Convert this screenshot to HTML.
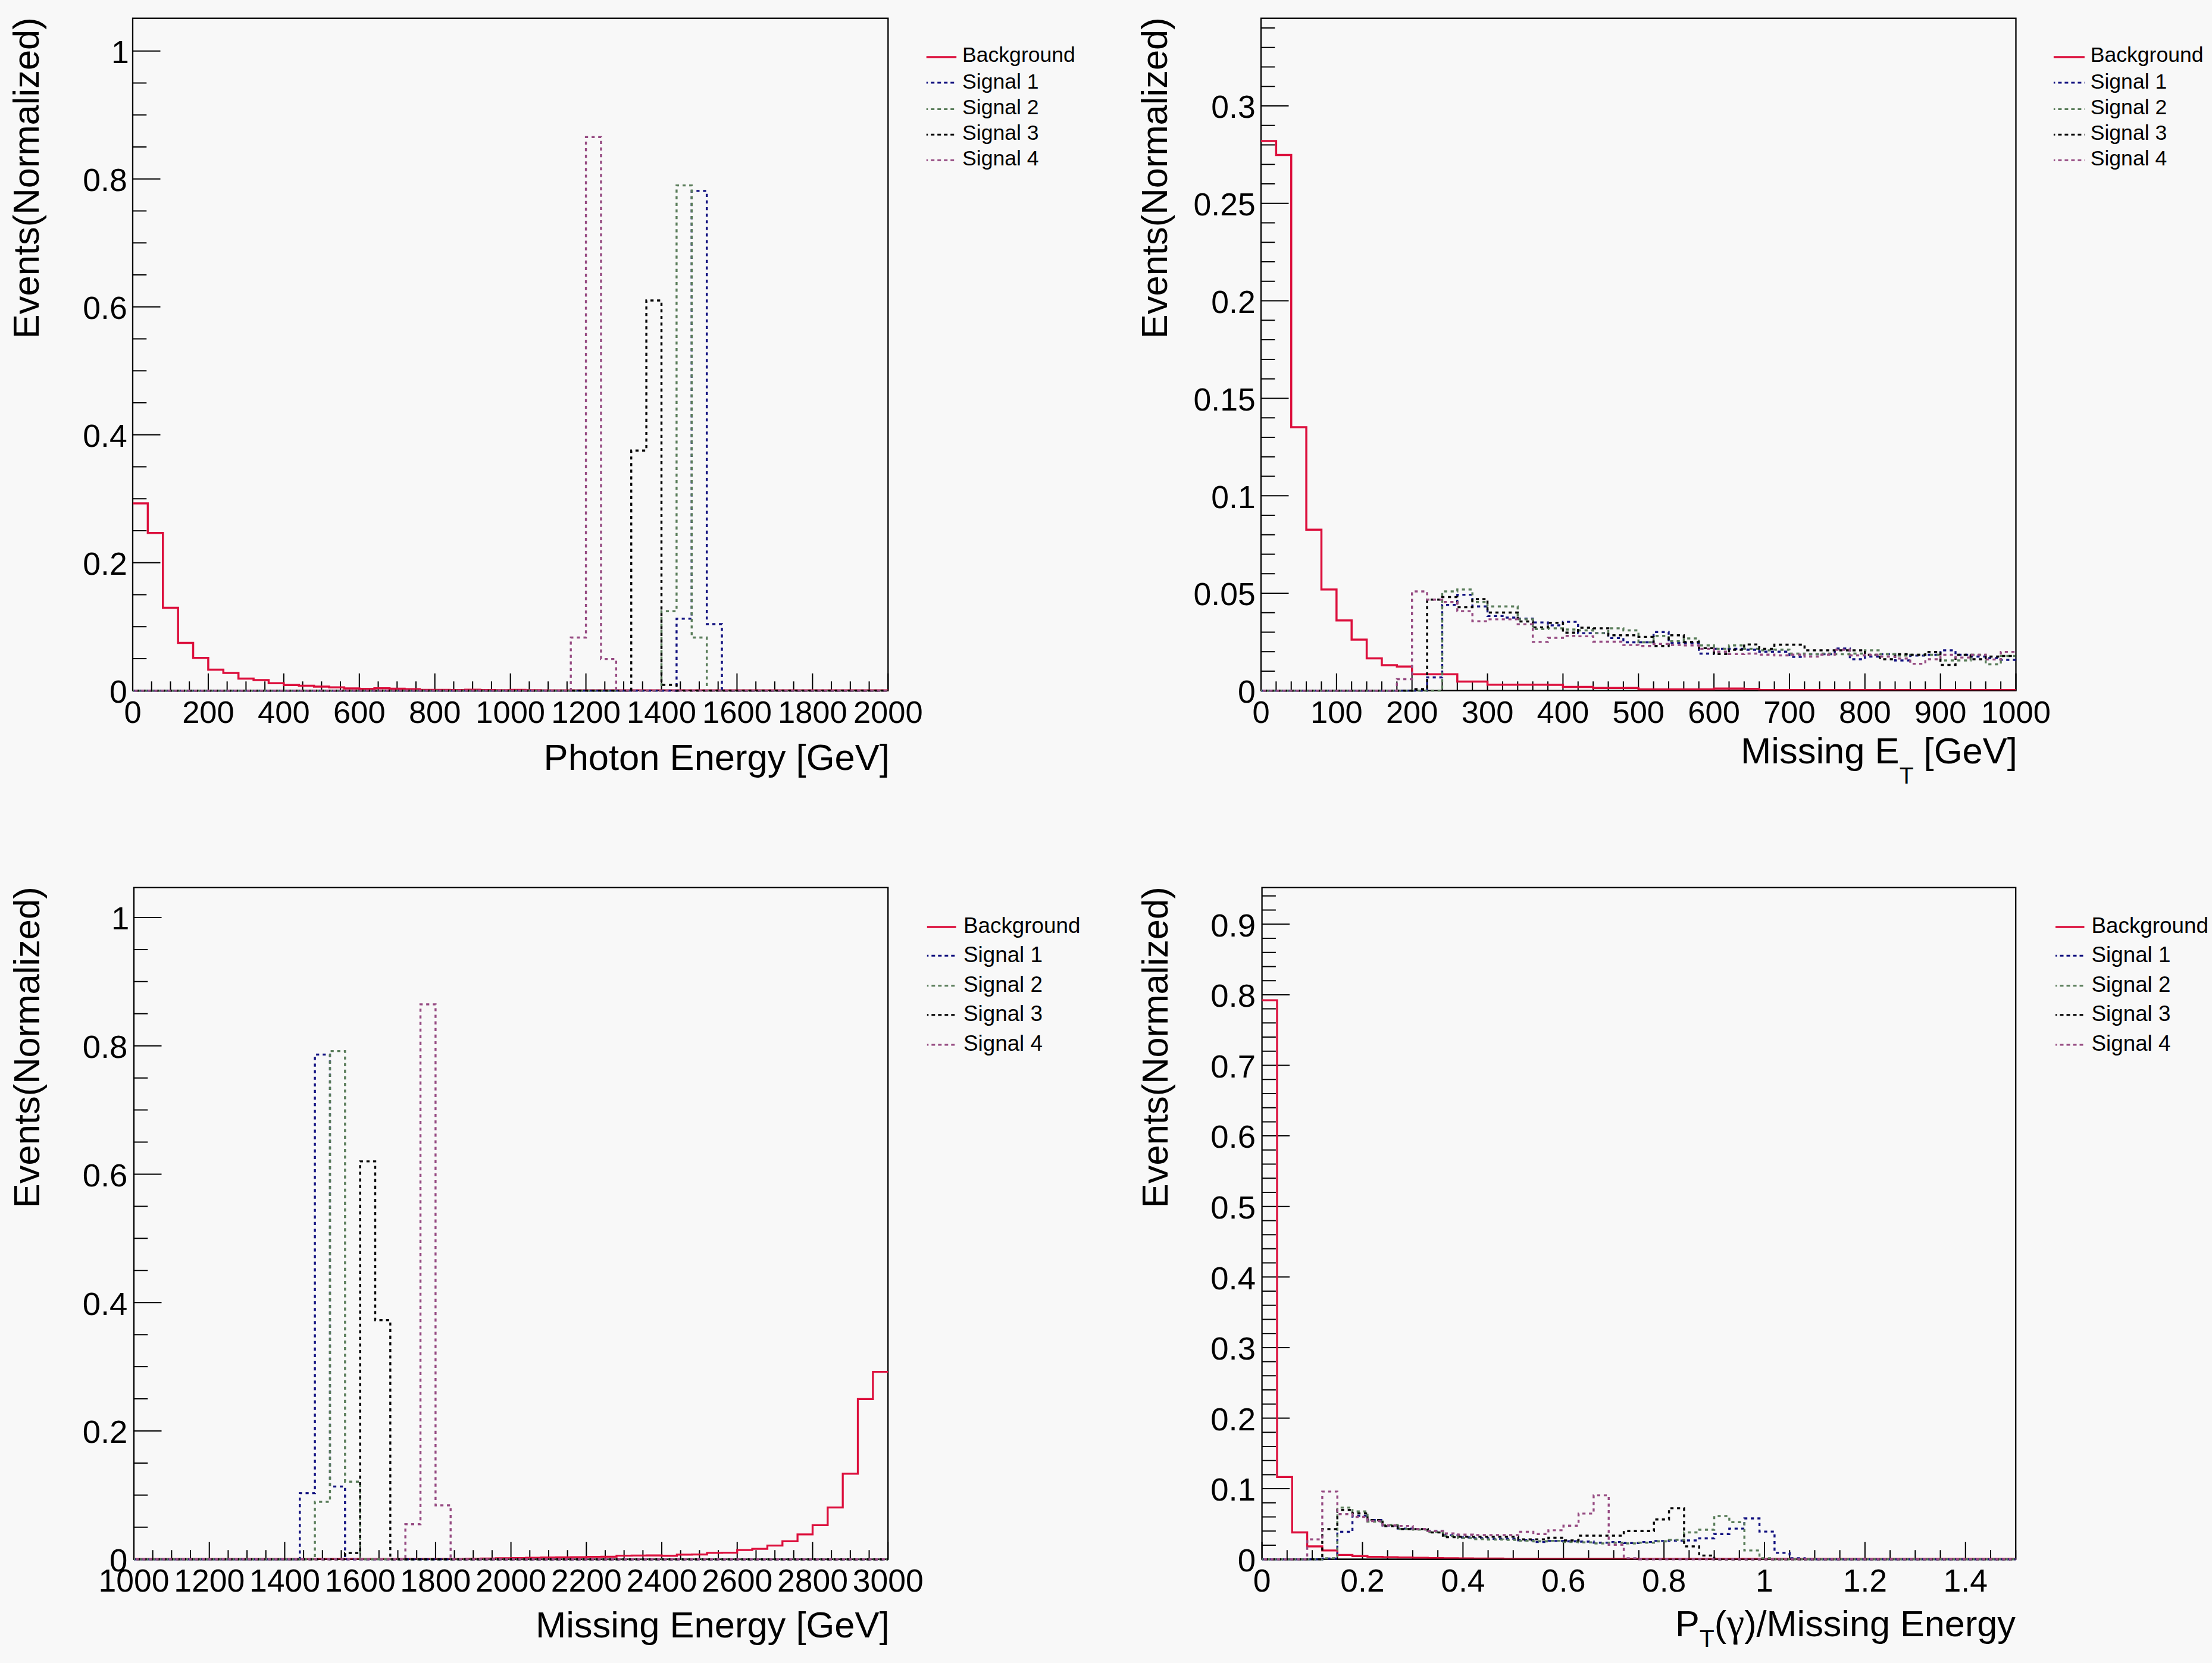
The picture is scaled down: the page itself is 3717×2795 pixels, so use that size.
<!DOCTYPE html>
<html lang="en">
<head>
<meta charset="utf-8">
<title>Normalized event distributions</title>
<style>
html,body{margin:0;padding:0;background:#f8f8f8;}
body{width:3717px;height:2795px;overflow:hidden;}
svg{display:block;}
svg text{font-family:"Liberation Sans", sans-serif;fill:#000;}
</style>
</head>
<body>
<svg width="3717" height="2795" viewBox="0 0 3717 2795">
<rect x="0" y="0" width="3717" height="2795" fill="#f8f8f8"/>
<g id="p1">
<rect x="223" y="30.7" width="1269.3" height="1130" fill="none" stroke="#000" stroke-width="2.3"/>
<path d="M223 1160.7v-29M254.73 1160.7v-15.5M286.46 1160.7v-15.5M318.2 1160.7v-15.5M349.93 1160.7v-29M381.66 1160.7v-15.5M413.39 1160.7v-15.5M445.13 1160.7v-15.5M476.86 1160.7v-29M508.59 1160.7v-15.5M540.33 1160.7v-15.5M572.06 1160.7v-15.5M603.79 1160.7v-29M635.52 1160.7v-15.5M667.25 1160.7v-15.5M698.99 1160.7v-15.5M730.72 1160.7v-29M762.45 1160.7v-15.5M794.18 1160.7v-15.5M825.92 1160.7v-15.5M857.65 1160.7v-29M889.38 1160.7v-15.5M921.11 1160.7v-15.5M952.85 1160.7v-15.5M984.58 1160.7v-29M1016.31 1160.7v-15.5M1048.05 1160.7v-15.5M1079.78 1160.7v-15.5M1111.51 1160.7v-29M1143.24 1160.7v-15.5M1174.97 1160.7v-15.5M1206.71 1160.7v-15.5M1238.44 1160.7v-29M1270.17 1160.7v-15.5M1301.9 1160.7v-15.5M1333.64 1160.7v-15.5M1365.37 1160.7v-29M1397.1 1160.7v-15.5M1428.83 1160.7v-15.5M1460.57 1160.7v-15.5M1492.3 1160.7v-29" stroke="#000" stroke-width="2" fill="none"/>
<path d="M223 1160.7h46.5M223 1106.95h23.3M223 1053.2h23.3M223 999.45h23.3M223 945.7h46.5M223 891.95h23.3M223 838.2h23.3M223 784.45h23.3M223 730.7h46.5M223 676.95h23.3M223 623.2h23.3M223 569.45h23.3M223 515.7h46.5M223 461.95h23.3M223 408.2h23.3M223 354.45h23.3M223 300.7h46.5M223 246.95h23.3M223 193.2h23.3M223 139.45h23.3M223 85.7h46.5" stroke="#000" stroke-width="2" fill="none"/>
<g font-size="52.5">
<text x="223" y="1215.2" text-anchor="middle">0</text>
<text x="349.93" y="1215.2" text-anchor="middle">200</text>
<text x="476.86" y="1215.2" text-anchor="middle">400</text>
<text x="603.79" y="1215.2" text-anchor="middle">600</text>
<text x="730.72" y="1215.2" text-anchor="middle">800</text>
<text x="857.65" y="1215.2" text-anchor="middle">1000</text>
<text x="984.58" y="1215.2" text-anchor="middle">1200</text>
<text x="1111.51" y="1215.2" text-anchor="middle">1400</text>
<text x="1238.44" y="1215.2" text-anchor="middle">1600</text>
<text x="1365.37" y="1215.2" text-anchor="middle">1800</text>
<text x="1492.3" y="1215.2" text-anchor="middle">2000</text>
<text x="213.7" y="1181" text-anchor="end" font-size="53.5">0</text>
<text x="213.7" y="966" text-anchor="end" font-size="53.5">0.2</text>
<text x="213.7" y="751" text-anchor="end" font-size="53.5">0.4</text>
<text x="213.7" y="536" text-anchor="end" font-size="53.5">0.6</text>
<text x="213.7" y="321" text-anchor="end" font-size="53.5">0.8</text>
<text x="216.7" y="106" text-anchor="end" font-size="53.5">1</text>
</g>
<path d="M223 845.94H248.39V895.71H273.77V1021.49H299.16V1080.4H324.54V1105.77H349.93V1125.44H375.32V1131.03H400.7V1140.6H426.09V1142.96H451.47V1148.23H476.86V1151.24H502.25V1152.53H527.63V1154.04H553.02V1155.33H578.4V1157.05H603.79V1157.69H629.18V1156.83H654.56V1157.48H679.95V1158.34H705.33V1159.41H730.72V1159.62H756.11V1159.84H781.49V1159.19H806.88V1159.84H832.26V1160.06H857.65V1159.41H883.04V1160.06H908.42V1160.27H933.81V1160.27H959.19V1160.27H984.58V1160.27H1009.97V1160.27H1035.35V1160.27H1060.74V1160.27H1086.12V1160.27H1111.51V1160.27H1136.9V1160.27H1162.28V1160.27H1187.67V1160.27H1213.05V1160.27H1238.44V1160.27H1263.83V1160.27H1289.21V1160.27H1314.6V1160.27H1339.98V1160.27H1365.37V1160.27H1390.76V1160.27H1416.14V1160.27H1441.53V1160.27H1466.91V1160.27H1492.3" fill="none" stroke="#dc0f3c" stroke-width="3.5" stroke-linejoin="miter"/>
<line x1="223" y1="1160.7" x2="1492.3" y2="1160.7" stroke="#000" stroke-width="2.3" stroke-opacity="0.78"/>
<path d="M223 1160.7H248.39V1160.7H273.77V1160.7H299.16V1160.7H324.54V1160.7H349.93V1160.7H375.32V1160.7H400.7V1160.7H426.09V1160.7H451.47V1160.7H476.86V1160.7H502.25V1160.7H527.63V1160.7H553.02V1160.7H578.4V1160.7H603.79V1160.7H629.18V1160.7H654.56V1160.7H679.95V1160.7H705.33V1160.7H730.72V1160.7H756.11V1160.7H781.49V1160.7H806.88V1160.7H832.26V1160.7H857.65V1160.7H883.04V1160.7H908.42V1160.7H933.81V1160.7H959.19V1160.7H984.58V1160.7H1009.97V1160.7H1035.35V1160.7H1060.74V1160.7H1086.12V1160.7H1111.51V1160.7H1136.9V1039.87H1162.28V320.91H1187.67V1049.01H1213.05V1160.7H1238.44V1160.7H1263.83V1160.7H1289.21V1160.7H1314.6V1160.7H1339.98V1160.7H1365.37V1160.7H1390.76V1160.7H1416.14V1160.7H1441.53V1160.7H1466.91V1160.7H1492.3" fill="none" stroke="#121280" stroke-width="3.4" stroke-dasharray="5.2 5.9" stroke-dashoffset="0"/>
<path d="M223 1160.7H248.39V1160.7H273.77V1160.7H299.16V1160.7H324.54V1160.7H349.93V1160.7H375.32V1160.7H400.7V1160.7H426.09V1160.7H451.47V1160.7H476.86V1160.7H502.25V1160.7H527.63V1160.7H553.02V1160.7H578.4V1160.7H603.79V1160.7H629.18V1160.7H654.56V1160.7H679.95V1160.7H705.33V1160.7H730.72V1160.7H756.11V1160.7H781.49V1160.7H806.88V1160.7H832.26V1160.7H857.65V1160.7H883.04V1160.7H908.42V1160.7H933.81V1160.7H959.19V1160.7H984.58V1160.7H1009.97V1160.7H1035.35V1160.7H1060.74V1160.7H1086.12V1160.7H1111.51V1027.29H1136.9V311.67H1162.28V1071.48H1187.67V1160.7H1213.05V1160.7H1238.44V1160.7H1263.83V1160.7H1289.21V1160.7H1314.6V1160.7H1339.98V1160.7H1365.37V1160.7H1390.76V1160.7H1416.14V1160.7H1441.53V1160.7H1466.91V1160.7H1492.3" fill="none" stroke="#5a7d5a" stroke-width="3.4" stroke-dasharray="5.2 5.9" stroke-dashoffset="3"/>
<path d="M223 1160.7H248.39V1160.7H273.77V1160.7H299.16V1160.7H324.54V1160.7H349.93V1160.7H375.32V1160.7H400.7V1160.7H426.09V1160.7H451.47V1160.7H476.86V1160.7H502.25V1160.7H527.63V1160.7H553.02V1160.7H578.4V1160.7H603.79V1160.7H629.18V1160.7H654.56V1160.7H679.95V1160.7H705.33V1160.7H730.72V1160.7H756.11V1160.7H781.49V1160.7H806.88V1160.7H832.26V1160.7H857.65V1160.7H883.04V1160.7H908.42V1160.7H933.81V1160.7H959.19V1160.7H984.58V1160.7H1009.97V1160.7H1035.35V1160.7H1060.74V757.25H1086.12V504.95H1111.51V1151.13H1136.9V1160.7H1162.28V1160.7H1187.67V1160.7H1213.05V1160.7H1238.44V1160.7H1263.83V1160.7H1289.21V1160.7H1314.6V1160.7H1339.98V1160.7H1365.37V1160.7H1390.76V1160.7H1416.14V1160.7H1441.53V1160.7H1466.91V1160.7H1492.3" fill="none" stroke="#000000" stroke-width="3.4" stroke-dasharray="5.2 5.9" stroke-dashoffset="6"/>
<path d="M223 1160.7H248.39V1160.7H273.77V1160.7H299.16V1160.7H324.54V1160.7H349.93V1160.7H375.32V1160.7H400.7V1160.7H426.09V1160.7H451.47V1160.7H476.86V1160.7H502.25V1160.7H527.63V1160.7H553.02V1160.7H578.4V1160.7H603.79V1160.7H629.18V1160.7H654.56V1160.7H679.95V1160.7H705.33V1160.7H730.72V1160.7H756.11V1160.7H781.49V1160.7H806.88V1160.7H832.26V1160.7H857.65V1160.7H883.04V1160.7H908.42V1160.7H933.81V1160.7H959.19V1071.48H984.58V230.4H1009.97V1107.6H1035.35V1160.7H1060.74V1160.7H1086.12V1160.7H1111.51V1160.7H1136.9V1160.7H1162.28V1160.7H1187.67V1160.7H1213.05V1160.7H1238.44V1160.7H1263.83V1160.7H1289.21V1160.7H1314.6V1160.7H1339.98V1160.7H1365.37V1160.7H1390.76V1160.7H1416.14V1160.7H1441.53V1160.7H1466.91V1160.7H1492.3" fill="none" stroke="#964b82" stroke-width="3.4" stroke-dasharray="5.2 5.9" stroke-dashoffset="8"/>
<text x="1494.8" y="1293.7" font-size="61.5" text-anchor="end">Photon Energy [GeV]</text>
<text transform="translate(64.8 29.2) rotate(-90)" font-size="61.5" text-anchor="end">Events(Normalized)</text>
<g font-size="35.6">
<line x1="1556.7" y1="95.9" x2="1607.2" y2="95.9" stroke="#dc0f3c" stroke-width="3.5"/>
<text x="1617" y="104.3">Background</text>
<line x1="1556.7" y1="139" x2="1607.2" y2="139" stroke="#121280" stroke-width="3" stroke-dasharray="6 5" stroke-dashoffset="3.5"/>
<text x="1617" y="148.5">Signal 1</text>
<line x1="1556.7" y1="183.5" x2="1607.2" y2="183.5" stroke="#5a7d5a" stroke-width="3" stroke-dasharray="6 5" stroke-dashoffset="3.5"/>
<text x="1617" y="192">Signal 2</text>
<line x1="1556.7" y1="226.3" x2="1607.2" y2="226.3" stroke="#000000" stroke-width="3" stroke-dasharray="6 5" stroke-dashoffset="3.5"/>
<text x="1617" y="235">Signal 3</text>
<line x1="1556.7" y1="269.3" x2="1607.2" y2="269.3" stroke="#964b82" stroke-width="3" stroke-dasharray="6 5" stroke-dashoffset="3.5"/>
<text x="1617" y="278">Signal 4</text>
</g>
</g>
<g id="p2">
<rect x="2119" y="30.7" width="1268.5" height="1130.1" fill="none" stroke="#000" stroke-width="2.3"/>
<path d="M2119 1160.8v-29M2144.37 1160.8v-15.5M2169.74 1160.8v-15.5M2195.11 1160.8v-15.5M2220.48 1160.8v-15.5M2245.85 1160.8v-29M2271.22 1160.8v-15.5M2296.59 1160.8v-15.5M2321.96 1160.8v-15.5M2347.33 1160.8v-15.5M2372.7 1160.8v-29M2398.07 1160.8v-15.5M2423.44 1160.8v-15.5M2448.81 1160.8v-15.5M2474.18 1160.8v-15.5M2499.55 1160.8v-29M2524.92 1160.8v-15.5M2550.29 1160.8v-15.5M2575.66 1160.8v-15.5M2601.03 1160.8v-15.5M2626.4 1160.8v-29M2651.77 1160.8v-15.5M2677.14 1160.8v-15.5M2702.51 1160.8v-15.5M2727.88 1160.8v-15.5M2753.25 1160.8v-29M2778.62 1160.8v-15.5M2803.99 1160.8v-15.5M2829.36 1160.8v-15.5M2854.73 1160.8v-15.5M2880.1 1160.8v-29M2905.47 1160.8v-15.5M2930.84 1160.8v-15.5M2956.21 1160.8v-15.5M2981.58 1160.8v-15.5M3006.95 1160.8v-29M3032.32 1160.8v-15.5M3057.69 1160.8v-15.5M3083.06 1160.8v-15.5M3108.43 1160.8v-15.5M3133.8 1160.8v-29M3159.17 1160.8v-15.5M3184.54 1160.8v-15.5M3209.91 1160.8v-15.5M3235.28 1160.8v-15.5M3260.65 1160.8v-29M3286.02 1160.8v-15.5M3311.39 1160.8v-15.5M3336.76 1160.8v-15.5M3362.13 1160.8v-15.5M3387.5 1160.8v-29" stroke="#000" stroke-width="2" fill="none"/>
<path d="M2119 1160.8h46.5M2119 1128.04h23.3M2119 1095.28h23.3M2119 1062.52h23.3M2119 1029.76h23.3M2119 997h46.5M2119 964.24h23.3M2119 931.48h23.3M2119 898.72h23.3M2119 865.96h23.3M2119 833.2h46.5M2119 800.44h23.3M2119 767.68h23.3M2119 734.92h23.3M2119 702.16h23.3M2119 669.4h46.5M2119 636.64h23.3M2119 603.88h23.3M2119 571.12h23.3M2119 538.36h23.3M2119 505.6h46.5M2119 472.84h23.3M2119 440.08h23.3M2119 407.32h23.3M2119 374.56h23.3M2119 341.8h46.5M2119 309.04h23.3M2119 276.28h23.3M2119 243.52h23.3M2119 210.76h23.3M2119 178h46.5M2119 145.24h23.3M2119 112.48h23.3M2119 79.72h23.3M2119 46.96h23.3" stroke="#000" stroke-width="2" fill="none"/>
<g font-size="52.5">
<text x="2119" y="1215.3" text-anchor="middle">0</text>
<text x="2245.85" y="1215.3" text-anchor="middle">100</text>
<text x="2372.7" y="1215.3" text-anchor="middle">200</text>
<text x="2499.55" y="1215.3" text-anchor="middle">300</text>
<text x="2626.4" y="1215.3" text-anchor="middle">400</text>
<text x="2753.25" y="1215.3" text-anchor="middle">500</text>
<text x="2880.1" y="1215.3" text-anchor="middle">600</text>
<text x="3006.95" y="1215.3" text-anchor="middle">700</text>
<text x="3133.8" y="1215.3" text-anchor="middle">800</text>
<text x="3260.65" y="1215.3" text-anchor="middle">900</text>
<text x="3387.5" y="1215.3" text-anchor="middle">1000</text>
<text x="2109.7" y="1181.1" text-anchor="end" font-size="53.5">0</text>
<text x="2109.7" y="1017.3" text-anchor="end" font-size="53.5">0.05</text>
<text x="2109.7" y="853.5" text-anchor="end" font-size="53.5">0.1</text>
<text x="2109.7" y="689.7" text-anchor="end" font-size="53.5">0.15</text>
<text x="2109.7" y="525.9" text-anchor="end" font-size="53.5">0.2</text>
<text x="2109.7" y="362.1" text-anchor="end" font-size="53.5">0.25</text>
<text x="2109.7" y="198.3" text-anchor="end" font-size="53.5">0.3</text>
</g>
<path d="M2119 236.97H2144.37V260.56H2169.74V717.88H2195.11V890.2H2220.48V990.78H2245.85V1042.86H2271.22V1074.97H2296.59V1106.42H2321.96V1117.88H2347.33V1120.18H2372.7V1133.28H2398.07V1133.28H2423.44V1133.28H2448.81V1145.4H2474.18V1145.4H2499.55V1150.64H2524.92V1150.64H2550.29V1150.64H2575.66V1150.64H2601.03V1150.97H2626.4V1154.58H2651.77V1154.58H2677.14V1156.21H2702.51V1156.21H2727.88V1156.21H2753.25V1158.83H2778.62V1158.83H2803.99V1158.83H2829.36V1158.83H2854.73V1158.83H2880.1V1157.2H2905.47V1157.2H2930.84V1157.85H2956.21V1159.82H2981.58V1159.82H3006.95V1159.82H3032.32V1159.82H3057.69V1159.82H3083.06V1159.82H3108.43V1159.82H3133.8V1159.82H3159.17V1159.82H3184.54V1159.82H3209.91V1159.82H3235.28V1159.82H3260.65V1159.82H3286.02V1159.82H3311.39V1159.82H3336.76V1159.82H3362.13V1159.82H3387.5" fill="none" stroke="#dc0f3c" stroke-width="3.5" stroke-linejoin="miter"/>
<line x1="2119" y1="1160.8" x2="3387.5" y2="1160.8" stroke="#000" stroke-width="2.3" stroke-opacity="0.78"/>
<path d="M2119 1160.8H2144.37V1160.8H2169.74V1160.8H2195.11V1160.8H2220.48V1160.8H2245.85V1160.8H2271.22V1160.8H2296.59V1160.8H2321.96V1160.8H2347.33V1160.8H2372.7V1160.8H2398.07V1138.52H2423.44V1016.66H2448.81V999.62H2474.18V1019.28H2499.55V1035.33H2524.92V1037.95H2550.29V1039.59H2575.66V1046.14H2601.03V1051.05H2626.4V1045.16H2651.77V1064.16H2677.14V1064.16H2702.51V1072.35H2727.88V1079.56H2753.25V1079.56H2778.62V1062.19H2803.99V1080.54H2829.36V1080.54H2854.73V1098.56H2880.1V1090.37H2905.47V1090.37H2930.84V1092H2956.21V1095.28H2981.58V1095.28H3006.95V1104.13H3032.32V1099.54H3057.69V1099.54H3083.06V1090.04H3108.43V1108.06H3133.8V1103.47H3159.17V1099.54H3184.54V1110.02H3209.91V1101.83H3235.28V1100.52H3260.65V1092.99H3286.02V1100.52H3311.39V1103.47H3336.76V1106.09H3362.13V1109.04H3387.5" fill="none" stroke="#121280" stroke-width="3.4" stroke-dasharray="5.2 5.9" stroke-dashoffset="0"/>
<path d="M2119 1160.8H2144.37V1160.8H2169.74V1160.8H2195.11V1160.8H2220.48V1160.8H2245.85V1160.8H2271.22V1160.8H2296.59V1160.8H2321.96V1160.8H2347.33V1160.8H2372.7V1160.8H2398.07V1160.8H2423.44V994.05H2448.81V990.78H2474.18V1011.74H2499.55V1019.28H2524.92V1019.28H2550.29V1040.9H2575.66V1057.28H2601.03V1055.97H2626.4V1057.93H2651.77V1059.57H2677.14V1064.16H2702.51V1055.97H2727.88V1059.57H2753.25V1079.56H2778.62V1068.74H2803.99V1077.59H2829.36V1073H2854.73V1084.8H2880.1V1090.37H2905.47V1084.8H2930.84V1090.37H2956.21V1092.99H2981.58V1092H3006.95V1098.56H3032.32V1099.54H3057.69V1098.56H3083.06V1099.54H3108.43V1098.56H3133.8V1092.99H3159.17V1099.54H3184.54V1101.83H3209.91V1100.52H3235.28V1100.52H3260.65V1110.02H3286.02V1110.02H3311.39V1100.52H3336.76V1116.57H3362.13V1102.49H3387.5" fill="none" stroke="#5a7d5a" stroke-width="3.4" stroke-dasharray="5.2 5.9" stroke-dashoffset="3"/>
<path d="M2119 1160.8H2144.37V1160.8H2169.74V1160.8H2195.11V1160.8H2220.48V1160.8H2245.85V1160.8H2271.22V1160.8H2296.59V1160.8H2321.96V1160.8H2347.33V1160.8H2372.7V1158.18H2398.07V1007.81H2423.44V1003.55H2448.81V1020.59H2474.18V1006.83H2499.55V1029.43H2524.92V1029.43H2550.29V1044.5H2575.66V1054.33H2601.03V1046.8H2626.4V1063.18H2651.77V1054.99H2677.14V1055.97H2702.51V1067.76H2727.88V1067.76H2753.25V1070.38H2778.62V1085.78H2803.99V1067.76H2829.36V1078.9H2854.73V1089.38H2880.1V1099.21H2905.47V1092H2930.84V1083.16H2956.21V1090.37H2981.58V1083.49H3006.95V1083.49H3032.32V1092.99H3057.69V1092.99H3083.06V1092.99H3108.43V1092.99H3133.8V1100.52H3159.17V1108.06H3184.54V1099.54H3209.91V1100.52H3235.28V1095.61H3260.65V1117.56H3286.02V1100.52H3311.39V1108.06H3336.76V1103.47H3362.13V1102.49H3387.5" fill="none" stroke="#000000" stroke-width="3.4" stroke-dasharray="5.2 5.9" stroke-dashoffset="6"/>
<path d="M2119 1160.8H2144.37V1160.8H2169.74V1160.8H2195.11V1160.8H2220.48V1160.8H2245.85V1160.8H2271.22V1160.8H2296.59V1160.8H2321.96V1160.8H2347.33V1141.47H2372.7V994.05H2398.07V1007.81H2423.44V1011.74H2448.81V1027.14H2474.18V1044.17H2499.55V1040.9H2524.92V1040.9H2550.29V1049.09H2575.66V1078.9H2601.03V1072.02H2626.4V1068.74H2651.77V1069.4H2677.14V1078.57H2702.51V1078.57H2727.88V1084.14H2753.25V1085.78H2778.62V1082.18H2803.99V1084.14H2829.36V1084.8H2854.73V1090.37H2880.1V1095.28H2905.47V1099.21H2930.84V1098.56H2956.21V1100.19H2981.58V1101.5H3006.95V1100.19H3032.32V1103.47H3057.69V1100.19H3083.06V1092H3108.43V1101.5H3133.8V1100.52H3159.17V1103.47H3184.54V1106.75H3209.91V1115.59H3235.28V1108.06H3260.65V1100.52H3286.02V1105.11H3311.39V1100.52H3336.76V1108.38H3362.13V1095.61H3387.5" fill="none" stroke="#964b82" stroke-width="3.4" stroke-dasharray="5.2 5.9" stroke-dashoffset="8"/>
<text x="3389.8" y="1283.3" font-size="61.5" text-anchor="end">Missing E<tspan font-size="39" dy="33.4">T</tspan><tspan dy="-33.4"> [GeV]</tspan></text>
<text transform="translate(1961 29.2) rotate(-90)" font-size="61.5" text-anchor="end">Events(Normalized)</text>
<g font-size="35.6">
<line x1="3450.9" y1="95.9" x2="3502.9" y2="95.9" stroke="#dc0f3c" stroke-width="3.5"/>
<text x="3512.7" y="104.3">Background</text>
<line x1="3450.9" y1="139" x2="3502.9" y2="139" stroke="#121280" stroke-width="3" stroke-dasharray="6 5" stroke-dashoffset="3.5"/>
<text x="3512.7" y="148.5">Signal 1</text>
<line x1="3450.9" y1="183.5" x2="3502.9" y2="183.5" stroke="#5a7d5a" stroke-width="3" stroke-dasharray="6 5" stroke-dashoffset="3.5"/>
<text x="3512.7" y="192">Signal 2</text>
<line x1="3450.9" y1="226.3" x2="3502.9" y2="226.3" stroke="#000000" stroke-width="3" stroke-dasharray="6 5" stroke-dashoffset="3.5"/>
<text x="3512.7" y="235">Signal 3</text>
<line x1="3450.9" y1="269.3" x2="3502.9" y2="269.3" stroke="#964b82" stroke-width="3" stroke-dasharray="6 5" stroke-dashoffset="3.5"/>
<text x="3512.7" y="278">Signal 4</text>
</g>
</g>
<g id="p3">
<rect x="225" y="1491.8" width="1267.2" height="1128.9" fill="none" stroke="#000" stroke-width="2.3"/>
<path d="M225 2620.7v-29M256.68 2620.7v-15.5M288.36 2620.7v-15.5M320.04 2620.7v-15.5M351.72 2620.7v-29M383.4 2620.7v-15.5M415.08 2620.7v-15.5M446.76 2620.7v-15.5M478.44 2620.7v-29M510.12 2620.7v-15.5M541.8 2620.7v-15.5M573.48 2620.7v-15.5M605.16 2620.7v-29M636.84 2620.7v-15.5M668.52 2620.7v-15.5M700.2 2620.7v-15.5M731.88 2620.7v-29M763.56 2620.7v-15.5M795.24 2620.7v-15.5M826.92 2620.7v-15.5M858.6 2620.7v-29M890.28 2620.7v-15.5M921.96 2620.7v-15.5M953.64 2620.7v-15.5M985.32 2620.7v-29M1017 2620.7v-15.5M1048.68 2620.7v-15.5M1080.36 2620.7v-15.5M1112.04 2620.7v-29M1143.72 2620.7v-15.5M1175.4 2620.7v-15.5M1207.08 2620.7v-15.5M1238.76 2620.7v-29M1270.44 2620.7v-15.5M1302.12 2620.7v-15.5M1333.8 2620.7v-15.5M1365.48 2620.7v-29M1397.16 2620.7v-15.5M1428.84 2620.7v-15.5M1460.52 2620.7v-15.5M1492.2 2620.7v-29" stroke="#000" stroke-width="2" fill="none"/>
<path d="M225 2620.7h46.5M225 2566.76h23.3M225 2512.83h23.3M225 2458.89h23.3M225 2404.96h46.5M225 2351.02h23.3M225 2297.09h23.3M225 2243.15h23.3M225 2189.22h46.5M225 2135.28h23.3M225 2081.35h23.3M225 2027.41h23.3M225 1973.48h46.5M225 1919.54h23.3M225 1865.61h23.3M225 1811.67h23.3M225 1757.74h46.5M225 1703.8h23.3M225 1649.87h23.3M225 1595.93h23.3M225 1542h46.5" stroke="#000" stroke-width="2" fill="none"/>
<g font-size="53.5">
<text x="225" y="2675.2" text-anchor="middle">1000</text>
<text x="351.72" y="2675.2" text-anchor="middle">1200</text>
<text x="478.44" y="2675.2" text-anchor="middle">1400</text>
<text x="605.16" y="2675.2" text-anchor="middle">1600</text>
<text x="731.88" y="2675.2" text-anchor="middle">1800</text>
<text x="858.6" y="2675.2" text-anchor="middle">2000</text>
<text x="985.32" y="2675.2" text-anchor="middle">2200</text>
<text x="1112.04" y="2675.2" text-anchor="middle">2400</text>
<text x="1238.76" y="2675.2" text-anchor="middle">2600</text>
<text x="1365.48" y="2675.2" text-anchor="middle">2800</text>
<text x="1492.2" y="2675.2" text-anchor="middle">3000</text>
<text x="214.4" y="2641" text-anchor="end" font-size="54.5">0</text>
<text x="214.4" y="2425.26" text-anchor="end" font-size="54.5">0.2</text>
<text x="214.4" y="2209.52" text-anchor="end" font-size="54.5">0.4</text>
<text x="214.4" y="1993.78" text-anchor="end" font-size="54.5">0.6</text>
<text x="214.4" y="1778.04" text-anchor="end" font-size="54.5">0.8</text>
<text x="217.4" y="1562.3" text-anchor="end" font-size="54.5">1</text>
</g>
<path d="M225 2620.27H250.34V2620.27H275.69V2620.27H301.03V2620.27H326.38V2620.27H351.72V2620.27H377.06V2620.27H402.41V2620.27H427.75V2620.27H453.1V2620.27H478.44V2620.27H503.78V2620.27H529.13V2620.27H554.47V2620.27H579.82V2620.27H605.16V2620.27H630.5V2620.27H655.85V2620.27H681.19V2620.27H706.54V2620.27H731.88V2620.27H757.22V2620.27H782.57V2619.62H807.91V2619.41H833.26V2618.97H858.6V2618.54H883.94V2618.11H909.29V2617.68H934.63V2617.46H959.98V2617.03H985.32V2616.6H1010.66V2616.39H1036.01V2614.66H1061.35V2614.44H1086.7V2614.23H1112.04V2614.77H1137.38V2612.83H1162.73V2612.61H1188.07V2609.91H1213.42V2609.7H1238.76V2605.17H1264.1V2603.12H1289.45V2597.72H1314.79V2590.28H1340.14V2578.95H1365.48V2563.42H1390.82V2533.54H1416.17V2476.8H1441.51V2351.35H1466.86V2305.72H1492.2" fill="none" stroke="#dc0f3c" stroke-width="3.3" stroke-linejoin="miter"/>
<line x1="225" y1="2620.7" x2="1492.2" y2="2620.7" stroke="#000" stroke-width="2.3" stroke-opacity="0.78"/>
<path d="M225 2620.7H250.34V2620.7H275.69V2620.7H301.03V2620.7H326.38V2620.7H351.72V2620.7H377.06V2620.7H402.41V2620.7H427.75V2620.7H453.1V2620.7H478.44V2620.7H503.78V2509.59H529.13V1772.41H554.47V2498.38H579.82V2620.7H605.16V2620.7H630.5V2620.7H655.85V2620.7H681.19V2620.7H706.54V2620.7H731.88V2620.7H757.22V2620.7H782.57V2620.7H807.91V2620.7H833.26V2620.7H858.6V2620.7H883.94V2620.7H909.29V2620.7H934.63V2620.7H959.98V2620.7H985.32V2620.7H1010.66V2620.7H1036.01V2620.7H1061.35V2620.7H1086.7V2620.7H1112.04V2620.7H1137.38V2620.7H1162.73V2620.7H1188.07V2620.7H1213.42V2620.7H1238.76V2620.7H1264.1V2620.7H1289.45V2620.7H1314.79V2620.7H1340.14V2620.7H1365.48V2620.7H1390.82V2620.7H1416.17V2620.7H1441.51V2620.7H1466.86V2620.7H1492.2" fill="none" stroke="#121280" stroke-width="3.4" stroke-dasharray="5.2 5.9" stroke-dashoffset="0"/>
<path d="M225 2620.7H250.34V2620.7H275.69V2620.7H301.03V2620.7H326.38V2620.7H351.72V2620.7H377.06V2620.7H402.41V2620.7H427.75V2620.7H453.1V2620.7H478.44V2620.7H503.78V2620.7H529.13V2524.16H554.47V1766.59H579.82V2490.18H605.16V2620.7H630.5V2620.7H655.85V2620.7H681.19V2620.7H706.54V2620.7H731.88V2620.7H757.22V2620.7H782.57V2620.7H807.91V2620.7H833.26V2620.7H858.6V2620.7H883.94V2620.7H909.29V2620.7H934.63V2620.7H959.98V2620.7H985.32V2620.7H1010.66V2620.7H1036.01V2620.7H1061.35V2620.7H1086.7V2620.7H1112.04V2620.7H1137.38V2620.7H1162.73V2620.7H1188.07V2620.7H1213.42V2620.7H1238.76V2620.7H1264.1V2620.7H1289.45V2620.7H1314.79V2620.7H1340.14V2620.7H1365.48V2620.7H1390.82V2620.7H1416.17V2620.7H1441.51V2620.7H1466.86V2620.7H1492.2" fill="none" stroke="#5a7d5a" stroke-width="3.4" stroke-dasharray="5.2 5.9" stroke-dashoffset="3"/>
<path d="M225 2620.7H250.34V2620.7H275.69V2620.7H301.03V2620.7H326.38V2620.7H351.72V2620.7H377.06V2620.7H402.41V2620.7H427.75V2620.7H453.1V2620.7H478.44V2620.7H503.78V2620.7H529.13V2620.7H554.47V2620.7H579.82V2610.13H605.16V1951.91H630.5V2218.78H655.85V2620.7H681.19V2620.7H706.54V2620.7H731.88V2620.7H757.22V2620.7H782.57V2620.7H807.91V2620.7H833.26V2620.7H858.6V2620.7H883.94V2620.7H909.29V2620.7H934.63V2620.7H959.98V2620.7H985.32V2620.7H1010.66V2620.7H1036.01V2620.7H1061.35V2620.7H1086.7V2620.7H1112.04V2620.7H1137.38V2620.7H1162.73V2620.7H1188.07V2620.7H1213.42V2620.7H1238.76V2620.7H1264.1V2620.7H1289.45V2620.7H1314.79V2620.7H1340.14V2620.7H1365.48V2620.7H1390.82V2620.7H1416.17V2620.7H1441.51V2620.7H1466.86V2620.7H1492.2" fill="none" stroke="#000000" stroke-width="3.4" stroke-dasharray="5.2 5.9" stroke-dashoffset="6"/>
<path d="M225 2620.7H250.34V2620.7H275.69V2620.7H301.03V2620.7H326.38V2620.7H351.72V2620.7H377.06V2620.7H402.41V2620.7H427.75V2620.7H453.1V2620.7H478.44V2620.7H503.78V2620.7H529.13V2620.7H554.47V2620.7H579.82V2620.7H605.16V2620.7H630.5V2620.7H655.85V2620.7H681.19V2561.7H706.54V1687.95H731.88V2529.98H757.22V2620.7H782.57V2620.7H807.91V2620.7H833.26V2620.7H858.6V2620.7H883.94V2620.7H909.29V2620.7H934.63V2620.7H959.98V2620.7H985.32V2620.7H1010.66V2620.7H1036.01V2620.7H1061.35V2620.7H1086.7V2620.7H1112.04V2620.7H1137.38V2620.7H1162.73V2620.7H1188.07V2620.7H1213.42V2620.7H1238.76V2620.7H1264.1V2620.7H1289.45V2620.7H1314.79V2620.7H1340.14V2620.7H1365.48V2620.7H1390.82V2620.7H1416.17V2620.7H1441.51V2620.7H1466.86V2620.7H1492.2" fill="none" stroke="#964b82" stroke-width="3.4" stroke-dasharray="5.2 5.9" stroke-dashoffset="8"/>
<text x="1494.7" y="2752.3" font-size="61.5" text-anchor="end">Missing Energy [GeV]</text>
<text transform="translate(65.8 1490.3) rotate(-90)" font-size="61.5" text-anchor="end">Events(Normalized)</text>
<g font-size="36.8">
<line x1="1557.8" y1="1558" x2="1606.6" y2="1558" stroke="#dc0f3c" stroke-width="3.3"/>
<text x="1619" y="1568.1">Background</text>
<line x1="1557.8" y1="1606.3" x2="1606.6" y2="1606.3" stroke="#121280" stroke-width="3" stroke-dasharray="6 5" stroke-dashoffset="3.5"/>
<text x="1619" y="1616.9">Signal 1</text>
<line x1="1557.8" y1="1656.8" x2="1606.6" y2="1656.8" stroke="#5a7d5a" stroke-width="3" stroke-dasharray="6 5" stroke-dashoffset="3.5"/>
<text x="1619" y="1667.4">Signal 2</text>
<line x1="1557.8" y1="1705.8" x2="1606.6" y2="1705.8" stroke="#000000" stroke-width="3" stroke-dasharray="6 5" stroke-dashoffset="3.5"/>
<text x="1619" y="1716.2">Signal 3</text>
<line x1="1557.8" y1="1756.1" x2="1606.6" y2="1756.1" stroke="#964b82" stroke-width="3" stroke-dasharray="6 5" stroke-dashoffset="3.5"/>
<text x="1619" y="1766.2">Signal 4</text>
</g>
</g>
<g id="p4">
<rect x="2120.6" y="1491.8" width="1266.6" height="1128.9" fill="none" stroke="#000" stroke-width="2.3"/>
<path d="M2120.6 2620.7v-29M2162.82 2620.7v-15.5M2205.04 2620.7v-15.5M2247.26 2620.7v-15.5M2289.48 2620.7v-29M2331.7 2620.7v-15.5M2373.92 2620.7v-15.5M2416.14 2620.7v-15.5M2458.36 2620.7v-29M2500.58 2620.7v-15.5M2542.8 2620.7v-15.5M2585.02 2620.7v-15.5M2627.24 2620.7v-29M2669.46 2620.7v-15.5M2711.68 2620.7v-15.5M2753.9 2620.7v-15.5M2796.12 2620.7v-29M2838.34 2620.7v-15.5M2880.56 2620.7v-15.5M2922.78 2620.7v-15.5M2965 2620.7v-29M3007.22 2620.7v-15.5M3049.44 2620.7v-15.5M3091.66 2620.7v-15.5M3133.88 2620.7v-29M3176.1 2620.7v-15.5M3218.32 2620.7v-15.5M3260.54 2620.7v-15.5M3302.76 2620.7v-29M3344.98 2620.7v-15.5M3387.2 2620.7v-15.5" stroke="#000" stroke-width="2" fill="none"/>
<path d="M2120.6 2620.7h46.5M2120.6 2596.98h23.3M2120.6 2573.26h23.3M2120.6 2549.54h23.3M2120.6 2525.82h23.3M2120.6 2502.1h46.5M2120.6 2478.38h23.3M2120.6 2454.66h23.3M2120.6 2430.94h23.3M2120.6 2407.22h23.3M2120.6 2383.5h46.5M2120.6 2359.78h23.3M2120.6 2336.06h23.3M2120.6 2312.34h23.3M2120.6 2288.62h23.3M2120.6 2264.9h46.5M2120.6 2241.18h23.3M2120.6 2217.46h23.3M2120.6 2193.74h23.3M2120.6 2170.02h23.3M2120.6 2146.3h46.5M2120.6 2122.58h23.3M2120.6 2098.86h23.3M2120.6 2075.14h23.3M2120.6 2051.42h23.3M2120.6 2027.7h46.5M2120.6 2003.98h23.3M2120.6 1980.26h23.3M2120.6 1956.54h23.3M2120.6 1932.82h23.3M2120.6 1909.1h46.5M2120.6 1885.38h23.3M2120.6 1861.66h23.3M2120.6 1837.94h23.3M2120.6 1814.22h23.3M2120.6 1790.5h46.5M2120.6 1766.78h23.3M2120.6 1743.06h23.3M2120.6 1719.34h23.3M2120.6 1695.62h23.3M2120.6 1671.9h46.5M2120.6 1648.18h23.3M2120.6 1624.46h23.3M2120.6 1600.74h23.3M2120.6 1577.02h23.3M2120.6 1553.3h46.5M2120.6 1529.58h23.3M2120.6 1505.86h23.3" stroke="#000" stroke-width="2" fill="none"/>
<g font-size="53.5">
<text x="2120.6" y="2675.2" text-anchor="middle">0</text>
<text x="2289.48" y="2675.2" text-anchor="middle">0.2</text>
<text x="2458.36" y="2675.2" text-anchor="middle">0.4</text>
<text x="2627.24" y="2675.2" text-anchor="middle">0.6</text>
<text x="2796.12" y="2675.2" text-anchor="middle">0.8</text>
<text x="2965" y="2675.2" text-anchor="middle">1</text>
<text x="3133.88" y="2675.2" text-anchor="middle">1.2</text>
<text x="3302.76" y="2675.2" text-anchor="middle">1.4</text>
<text x="2110" y="2641" text-anchor="end" font-size="54.5">0</text>
<text x="2110" y="2522.4" text-anchor="end" font-size="54.5">0.1</text>
<text x="2110" y="2403.8" text-anchor="end" font-size="54.5">0.2</text>
<text x="2110" y="2285.2" text-anchor="end" font-size="54.5">0.3</text>
<text x="2110" y="2166.6" text-anchor="end" font-size="54.5">0.4</text>
<text x="2110" y="2048" text-anchor="end" font-size="54.5">0.5</text>
<text x="2110" y="1929.4" text-anchor="end" font-size="54.5">0.6</text>
<text x="2110" y="1810.8" text-anchor="end" font-size="54.5">0.7</text>
<text x="2110" y="1692.2" text-anchor="end" font-size="54.5">0.8</text>
<text x="2110" y="1573.6" text-anchor="end" font-size="54.5">0.9</text>
</g>
<path d="M2120.6 1681.15H2145.93V2482.41H2171.26V2575.51H2196.6V2599H2221.93V2605.88H2247.26V2613.47H2272.59V2615.24H2297.92V2616.67H2323.26V2617.14H2348.59V2617.62H2373.92V2618.09H2399.25V2618.57H2424.58V2618.92H2449.92V2619.16H2475.25V2619.28H2500.58V2619.51H2525.91V2619.99H2551.24V2619.99H2576.58V2619.99H2601.91V2619.99H2627.24V2619.99H2652.57V2619.99H2677.9V2619.99H2703.24V2619.99H2728.57V2619.99H2753.9V2619.99H2779.23V2619.99H2804.56V2619.99H2829.9V2619.99H2855.23V2619.99H2880.56V2619.99H2905.89V2619.99H2931.22V2619.99H2956.56V2619.99H2981.89V2619.99H3007.22V2619.99H3032.55V2619.99H3057.88V2619.99H3083.22V2619.99H3108.55V2619.99H3133.88V2619.99H3159.21V2619.99H3184.54V2619.99H3209.88V2619.99H3235.21V2619.99H3260.54V2619.99H3285.87V2619.99H3311.2V2619.99H3336.54V2619.99H3361.87V2619.99H3387.2" fill="none" stroke="#dc0f3c" stroke-width="3.3" stroke-linejoin="miter"/>
<line x1="2120.6" y1="2620.7" x2="3387.2" y2="2620.7" stroke="#000" stroke-width="2.3" stroke-opacity="0.78"/>
<path d="M2120.6 2620.7H2145.93V2620.7H2171.26V2620.7H2196.6V2620.7H2221.93V2619.51H2247.26V2574.56H2272.59V2547.52H2297.92V2554.76H2323.26V2563.77H2348.59V2569.11H2373.92V2570.06H2399.25V2573.26H2424.58V2580.38H2449.92V2583.93H2475.25V2585.12H2500.58V2586.31H2525.91V2586.31H2551.24V2588.68H2576.58V2591.64H2601.91V2589.86H2627.24V2590.46H2652.57V2591.05H2677.9V2592.83H2703.24V2591.64H2728.57V2593.42H2753.9V2591.64H2779.23V2589.86H2804.56V2589.27H2829.9V2589.03H2855.23V2585.48H2880.56V2578.24H2905.89V2569.11H2931.22V2552.03H2956.56V2574.09H2981.89V2609.91H3007.22V2618.92H3032.55V2620.7H3057.88V2620.7H3083.22V2620.7H3108.55V2620.7H3133.88V2620.7H3159.21V2620.7H3184.54V2620.7H3209.88V2620.7H3235.21V2620.7H3260.54V2620.7H3285.87V2620.7H3311.2V2620.7H3336.54V2620.7H3361.87V2620.7H3387.2" fill="none" stroke="#121280" stroke-width="3.4" stroke-dasharray="5.2 5.9" stroke-dashoffset="0"/>
<path d="M2120.6 2620.7H2145.93V2620.7H2171.26V2620.7H2196.6V2620.7H2221.93V2618.92H2247.26V2533.88H2272.59V2540.29H2297.92V2557.25H2323.26V2562.82H2348.59V2569.7H2373.92V2570.89H2399.25V2575.04H2424.58V2581.56H2449.92V2585.12H2475.25V2586.9H2500.58V2587.49H2525.91V2588.09H2551.24V2589.63H2576.58V2590.46H2601.91V2589.63H2627.24V2591.64H2652.57V2592.24H2677.9V2594.01H2703.24V2592.83H2728.57V2594.01H2753.9V2592.83H2779.23V2590.46H2804.56V2588.09H2829.9V2575.51H2855.23V2571.01H2880.56V2548H2905.89V2558.32H2931.22V2605.88H2956.56V2618.92H2981.89V2620.7H3007.22V2620.7H3032.55V2620.7H3057.88V2620.7H3083.22V2620.7H3108.55V2620.7H3133.88V2620.7H3159.21V2620.7H3184.54V2620.7H3209.88V2620.7H3235.21V2620.7H3260.54V2620.7H3285.87V2620.7H3311.2V2620.7H3336.54V2620.7H3361.87V2620.7H3387.2" fill="none" stroke="#5a7d5a" stroke-width="3.4" stroke-dasharray="5.2 5.9" stroke-dashoffset="3"/>
<path d="M2120.6 2620.7H2145.93V2620.7H2171.26V2620.7H2196.6V2620.7H2221.93V2570.06H2247.26V2537.68H2272.59V2543.61H2297.92V2554.76H2323.26V2564.96H2348.59V2570.06H2373.92V2570.06H2399.25V2575.63H2424.58V2583.58H2449.92V2582.75H2475.25V2582.75H2500.58V2582.75H2525.91V2582.75H2551.24V2587.25H2576.58V2587.25H2601.91V2584.53H2627.24V2589.03H2652.57V2580.97H2677.9V2580.97H2703.24V2580.97H2728.57V2573.26H2753.9V2573.26H2779.23V2553.81H2804.56V2534.83H2829.9V2599H2855.23V2614.41H2880.56V2620.7H2905.89V2620.7H2931.22V2620.7H2956.56V2620.7H2981.89V2620.7H3007.22V2620.7H3032.55V2620.7H3057.88V2620.7H3083.22V2620.7H3108.55V2620.7H3133.88V2620.7H3159.21V2620.7H3184.54V2620.7H3209.88V2620.7H3235.21V2620.7H3260.54V2620.7H3285.87V2620.7H3311.2V2620.7H3336.54V2620.7H3361.87V2620.7H3387.2" fill="none" stroke="#000000" stroke-width="3.4" stroke-dasharray="5.2 5.9" stroke-dashoffset="6"/>
<path d="M2120.6 2620.7H2145.93V2620.7H2171.26V2620.7H2196.6V2587.25H2221.93V2506.84H2247.26V2544.8H2272.59V2549.54H2297.92V2556.66H2323.26V2563.77H2348.59V2564.6H2373.92V2569.7H2399.25V2573.26H2424.58V2577.29H2449.92V2579.19H2475.25V2580.02H2500.58V2580.02H2525.91V2580.02H2551.24V2574.56H2576.58V2578.24H2601.91V2571.84H2627.24V2564.25H2652.57V2543.85H2677.9V2513.13H2703.24V2596.27H2728.57V2618.92H2753.9V2620.7H2779.23V2620.7H2804.56V2620.7H2829.9V2620.7H2855.23V2620.7H2880.56V2620.7H2905.89V2620.7H2931.22V2620.7H2956.56V2620.7H2981.89V2620.7H3007.22V2620.7H3032.55V2620.7H3057.88V2620.7H3083.22V2620.7H3108.55V2620.7H3133.88V2620.7H3159.21V2620.7H3184.54V2620.7H3209.88V2620.7H3235.21V2620.7H3260.54V2620.7H3285.87V2620.7H3311.2V2620.7H3336.54V2620.7H3361.87V2620.7H3387.2" fill="none" stroke="#964b82" stroke-width="3.4" stroke-dasharray="5.2 5.9" stroke-dashoffset="8"/>
<text x="3386.9" y="2749.9" font-size="61.2" text-anchor="end">P<tspan font-size="41" dy="18.5">T</tspan><tspan dy="-18.5">(</tspan><tspan font-family="&quot;Liberation Serif&quot;, serif" font-size="68">γ</tspan><tspan>)/Missing Energy</tspan></text>
<text transform="translate(1961.8 1490.3) rotate(-90)" font-size="61.5" text-anchor="end">Events(Normalized)</text>
<g font-size="36.8">
<line x1="3454" y1="1558" x2="3502.5" y2="1558" stroke="#dc0f3c" stroke-width="3.3"/>
<text x="3514.5" y="1568.1">Background</text>
<line x1="3454" y1="1606.3" x2="3502.5" y2="1606.3" stroke="#121280" stroke-width="3" stroke-dasharray="6 5" stroke-dashoffset="3.5"/>
<text x="3514.5" y="1616.9">Signal 1</text>
<line x1="3454" y1="1656.8" x2="3502.5" y2="1656.8" stroke="#5a7d5a" stroke-width="3" stroke-dasharray="6 5" stroke-dashoffset="3.5"/>
<text x="3514.5" y="1667.4">Signal 2</text>
<line x1="3454" y1="1705.8" x2="3502.5" y2="1705.8" stroke="#000000" stroke-width="3" stroke-dasharray="6 5" stroke-dashoffset="3.5"/>
<text x="3514.5" y="1716.2">Signal 3</text>
<line x1="3454" y1="1756.1" x2="3502.5" y2="1756.1" stroke="#964b82" stroke-width="3" stroke-dasharray="6 5" stroke-dashoffset="3.5"/>
<text x="3514.5" y="1766.2">Signal 4</text>
</g>
</g>
</svg>
</body>
</html>
